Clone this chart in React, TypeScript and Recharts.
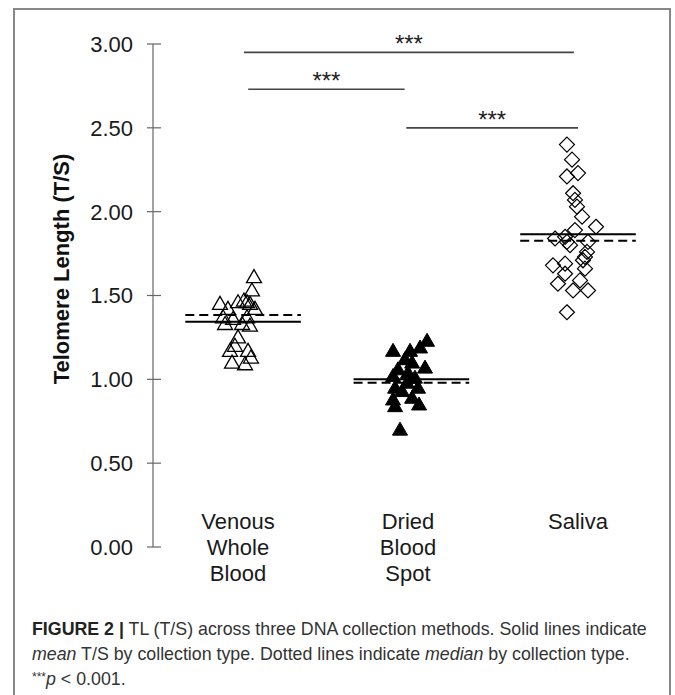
import React from 'react';
import {
  ScatterChart,
  Scatter,
  XAxis,
  YAxis,
  ReferenceLine,
  Label,
} from 'recharts';

const FONT = '"Liberation Sans", Arial, Helvetica, sans-serif';

const categoryLabels = [
  ['Venous', 'Whole', 'Blood'],
  ['Dried', 'Blood', 'Spot'],
  ['Saliva'],
];
const categoryPositions = [1, 2, 3];
const yTicks = [0, 0.5, 1, 1.5, 2, 2.5, 3];

// beeswarm position (in category units) and T/S value of each sample
const venousX = [1.094, 1.082, 1.053, 1.071, 1.035, 0.894, 0.941, 1.0, 1.1, 0.912, 0.971, 1.053, 0.924, 1.024, 1.07, 1.0, 0.982, 0.953, 1.059, 1.076, 0.965, 1.041];
const venousTS = [1.61, 1.53, 1.46, 1.45, 1.47, 1.45, 1.42, 1.46, 1.42, 1.37, 1.36, 1.37, 1.33, 1.33, 1.32, 1.25, 1.2, 1.17, 1.17, 1.13, 1.1, 1.09];

const dbsX = [1.912, 2.012, 2.071, 2.112, 2.024, 2.1, 1.912, 2.0, 2.041, 1.994, 1.924, 2.059, 1.965, 1.912, 2.024, 1.924, 2.065, 1.953, 1.982, 1.941];
const dbsTS = [1.17, 1.17, 1.19, 1.23, 1.1, 1.07, 1.02, 1.04, 1.01, 0.98, 0.95, 0.95, 0.93, 0.88, 0.89, 0.84, 0.85, 0.7, 1.12, 1.06];

const salivaX = [2.935, 2.965, 3.0, 2.935, 2.971, 2.982, 2.994, 3.024, 3.106, 2.982, 2.924, 2.935, 2.953, 3.059, 3.053, 3.041, 3.029, 2.924, 3.041, 2.924, 3.012, 2.971, 3.059, 2.935, 2.865, 2.853, 2.882];
const salivaTS = [2.4, 2.31, 2.23, 2.21, 2.11, 2.07, 2.03, 1.97, 1.91, 1.89, 1.85, 1.82, 1.8, 1.82, 1.76, 1.73, 1.71, 1.69, 1.66, 1.63, 1.59, 1.53, 1.53, 1.4, 1.84, 1.68, 1.57];

const groupMeans = [1.343, 1.0, 1.866];
const groupMedians = [1.383, 0.98, 1.826];
const groupCenters = [1.03, 2.02, 3.0];
const summaryHalfWidth = 0.34;

// significance brackets: from, to, height
const sigFrom = [1.035, 1.06, 1.99];
const sigTo = [2.976, 1.98, 3.0];
const sigY = [2.95, 2.73, 2.5];

const toPoints = (xs: number[], ys: number[]) => xs.map((x, i) => ({ x, y: ys[i] }));

const venousData = toPoints(venousX, venousTS);
const dbsData = toPoints(dbsX, dbsTS);
const salivaData = toPoints(salivaX, salivaTS);

const triangle = (cx: number, cy: number) =>
  `M${cx},${cy - 7.5} L${cx + 7.5},${cy + 5.5} L${cx - 7.5},${cy + 5.5} Z`;

const OpenTriangle = (props: any) => (
  <path d={triangle(props.cx, props.cy)} fill="none" stroke="#000" strokeWidth={1.3} />
);
const FilledTriangle = (props: any) => (
  <path d={triangle(props.cx, props.cy)} fill="#000" stroke="#000" strokeWidth={1} />
);
const OpenDiamond = (props: any) => {
  const { cx, cy } = props;
  return (
    <path
      d={`M${cx},${cy - 7.5} L${cx + 7.5},${cy} L${cx},${cy + 7.5} L${cx - 7.5},${cy} Z`}
      fill="none"
      stroke="#000"
      strokeWidth={1.2}
    />
  );
};

const YTick = (props: any) => {
  const { x, y, payload } = props;
  return (
    <g>
      <line x1={x - 6} x2={x + 8} y1={y} y2={y} stroke="#666" strokeWidth={1.2} />
      <text x={x - 20} y={y} dy="0.36em" textAnchor="end" fontSize={22} fontFamily={FONT} fill="#1a1a1a">
        {Number(payload.value).toFixed(2)}
      </text>
    </g>
  );
};

const CategoryTick = (props: any) => {
  const { x, y, payload } = props;
  const idx = categoryPositions.indexOf(Number(payload.value));
  const lines = categoryLabels[idx] || [];
  return (
    <text x={x} y={y - 18} textAnchor="middle" fontSize={22} fontFamily={FONT} fill="#1a1a1a">
      {lines.map((l, i) => (
        <tspan key={i} x={x} dy={i === 0 ? 0 : 26}>
          {l}
        </tspan>
      ))}
    </text>
  );
};

const stars = (props: any) => {
  const vb = props.viewBox || {};
  const cx = vb.x1 != null ? (vb.x1 + vb.x2) / 2 : vb.x + (vb.width || 0) / 2;
  const cy = vb.y1 != null ? vb.y1 : vb.y;
  return (
    <text x={cx} y={cy} textAnchor="middle" fontSize={24} fontFamily={FONT} fill="#222">
      ***
    </text>
  );
};

export default function App() {
  return (
    <div
      style={{
        position: 'fixed',
        left: 0,
        top: 0,
        width: 675,
        height: 695,
        overflow: 'hidden',
        background: '#fff',
        fontFamily: FONT,
      }}
    >
      <div
        style={{
          position: 'absolute',
          left: 13,
          top: 8,
          width: 654,
          height: 720,
          border: '2px solid #888',
        }}
      />
      <div style={{ position: 'absolute', left: 0, top: 0 }}>
        <ScatterChart width={675} height={600} margin={{ top: 44, right: 12, bottom: 0, left: 0 }}>
          <XAxis
            type="number"
            dataKey="x"
            domain={[0.5, 3.5]}
            ticks={categoryPositions}
            height={53}
            axisLine={false}
            tickLine={false}
            tickSize={0}
            tickMargin={0}
            tick={<CategoryTick />}
            interval={0}
            allowDataOverflow
          />
          <YAxis
            type="number"
            dataKey="y"
            domain={[0, 3]}
            ticks={yTicks}
            width={153}
            tickSize={0}
            tickMargin={0}
            tickLine={false}
            axisLine={{ stroke: '#666', strokeWidth: 1.2 }}
            tick={<YTick />}
            interval={0}
          >
            <Label
              content={() => (
                <text
                  x={61}
                  y={269}
                  transform="rotate(-90 61 269)"
                  textAnchor="middle"
                  dy="0.36em"
                  fontSize={22}
                  fontWeight="bold"
                  fontFamily={FONT}
                  fill="#111"
                >
                  Telomere Length (T/S)
                </text>
              )}
            />
          </YAxis>

          {sigY.map((y, i) => (
            <ReferenceLine
              key={`sig${i}`}
              segment={[
                { x: sigFrom[i], y },
                { x: sigTo[i], y },
              ]}
              stroke="#444"
              strokeWidth={1.6}
              ifOverflow="extendDomain"
              label={stars}
            />
          ))}

          {groupMeans.map((m, i) => (
            <ReferenceLine
              key={`mean${i}`}
              segment={[
                { x: groupCenters[i] - summaryHalfWidth, y: m },
                { x: groupCenters[i] + summaryHalfWidth, y: m },
              ]}
              stroke="#000"
              strokeWidth={2}
            />
          ))}
          {groupMedians.map((m, i) => (
            <ReferenceLine
              key={`median${i}`}
              segment={[
                { x: groupCenters[i] - summaryHalfWidth, y: m },
                { x: groupCenters[i] + summaryHalfWidth, y: m },
              ]}
              stroke="#000"
              strokeWidth={2}
              strokeDasharray="9 5"
            />
          ))}

          <Scatter data={venousData} shape={<OpenTriangle />} isAnimationActive={false} />
          <Scatter data={dbsData} shape={<FilledTriangle />} isAnimationActive={false} />
          <Scatter data={salivaData} shape={<OpenDiamond />} isAnimationActive={false} />
        </ScatterChart>
      </div>
      <div
        style={{
          position: 'absolute',
          left: 32,
          top: 617,
          width: 640,
          fontSize: 17.8,
          lineHeight: '25px',
          color: '#333',
          whiteSpace: 'nowrap',
        }}
      >
        <div>
          <b style={{ color: '#222' }}>FIGURE 2 |</b> TL (T/S) across three DNA collection methods. Solid lines indicate
        </div>
        <div>
          <i>mean</i> T/S by collection type. Dotted lines indicate <i>median</i> by collection type.
        </div>
        <div>
          <sup style={{ fontSize: 12, verticalAlign: 'top', lineHeight: '20px' }}>***</sup>
          <i>p</i> &lt; 0.001.
        </div>
      </div>
    </div>
  );
}
